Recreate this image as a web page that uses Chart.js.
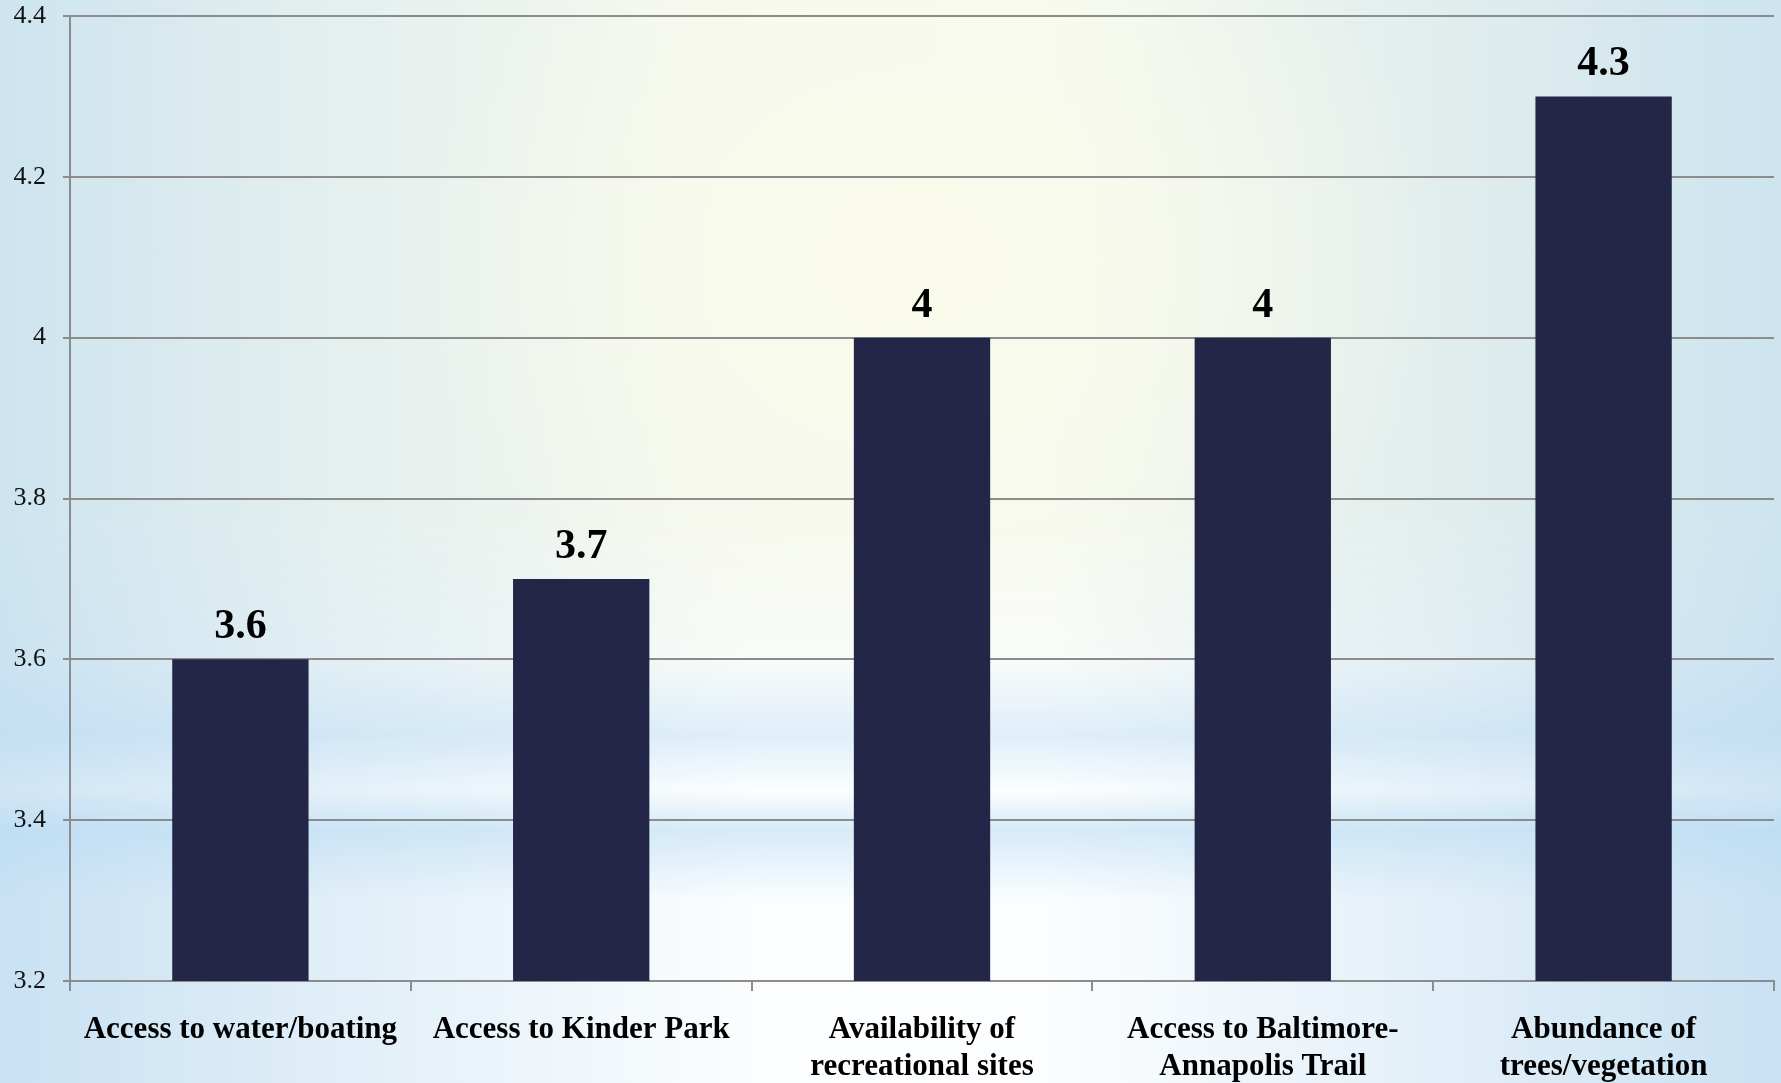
<!DOCTYPE html>
<html>
<head>
<meta charset="utf-8">
<script src="https://cdn.jsdelivr.net/npm/chart.js@4"></script>
<style>
 html, body { margin: 0; padding: 0; }
 body {
  width: 1781px; height: 1083px; overflow: hidden; position: relative;
  background: linear-gradient(to right, #c8e1f3 0px, #e2eff8 350px, #fbfdfe 750px, #fbfdfe 1050px, #e2eff8 1450px, #c8e1f3 1781px);
 }
 #topglow {
  position: absolute; left: 0; top: 0; width: 1781px; height: 760px;
  background:
   radial-gradient(ellipse 520px 420px at 930px 260px, rgba(250,251,234,1), rgba(250,251,234,0) 100%),
   linear-gradient(to right, #cde4ef 0px, #e2eeee 300px, #f5f8ef 700px, #f6f9f0 1050px, #e1eded 1450px, #cde4ef 1781px);
  -webkit-mask-image: linear-gradient(to bottom, #000 0px, #000 520px, rgba(0,0,0,0) 760px);
  mask-image: linear-gradient(to bottom, #000 0px, #000 520px, rgba(0,0,0,0) 760px);
 }
 #bands {
  position: absolute; left: 0; top: 0; width: 1781px; height: 1083px;
  background: linear-gradient(to bottom, rgba(190,222,244,0) 0px, rgba(190,222,244,0) 660px,
     rgba(190,222,244,0.45) 735px, rgba(255,255,255,0.15) 790px, rgba(185,220,244,0.55) 830px,
     rgba(190,222,244,0) 900px, rgba(190,222,244,0) 1083px);
 }
 #wrap { position: absolute; left: 0; top: 0; width: 1781px; height: 1083px; }
</style>
</head>
<body>
<div id="topglow"></div>
<div id="bands"></div>
<div id="wrap"><canvas id="barChart"></canvas></div>
<script>
// データ
const categories = [
 ["Access to water/boating"],
 ["Access to Kinder Park"],
 ["Availability of", "recreational sites"],
 ["Access to Baltimore-", "Annapolis Trail"],
 ["Abundance of", "trees/vegetation"]
];
const scores = [3.6, 3.7, 4, 4, 4.3];
const yTicks = [3.2, 3.4, 3.6, 3.8, 4, 4.2, 4.4];

const serif = "'Liberation Serif', 'Times New Roman', serif";

// 棒の上に値を描く
const valueLabels = {
 id: "valueLabels",
 afterDatasetsDraw(chart) {
  const ctx = chart.ctx;
  const meta = chart.getDatasetMeta(0);
  ctx.save();
  ctx.font = "bold 42px " + serif;
  ctx.fillStyle = "#000";
  ctx.textAlign = "center";
  ctx.textBaseline = "alphabetic";
  meta.data.forEach((bar, i) => {
   ctx.fillText(String(scores[i]), bar.x, bar.y - 21);
  });
  ctx.restore();
 }
};

const config = {
 type: "bar",
 data: {
  labels: categories,
  datasets: [{
   data: scores,
   backgroundColor: "#232646",
   borderWidth: 0,
   barPercentage: 0.4,
   categoryPercentage: 1.0
  }]
 },
 options: {
  responsive: true,
  maintainAspectRatio: false,
  animation: false,
  layout: { padding: { top: 0, right: 7, left: 0, bottom: 0 } },
  plugins: {
   legend: { display: false },
   tooltip: { enabled: false }
  },
  scales: {
   y: {
    min: 3.2,
    max: 4.4,
    afterFit(scale) {
     scale.width = 70;
     scale.paddingTop = 16;
     scale.paddingBottom = 0;
    },
    afterBuildTicks(scale) { scale.ticks = yTicks.map(v => ({ value: v })); },
    border: { color: "#8c8c8c", width: 2 },
    grid: { color: "#8c8c8c", lineWidth: 2, tickLength: 7 },
    ticks: {
     padding: 17,
     color: "#111",
     font: { family: serif, size: 26 },
     callback: v => String(Number(v.toFixed(1)))
    }
   },
   x: {
    afterFit(scale) {
     scale.height = 102;
     scale.paddingLeft = 0;
     scale.paddingRight = 0;
    },
    border: { color: "#8c8c8c", width: 2 },
    grid: { drawOnChartArea: false, color: "#8c8c8c", lineWidth: 2, tickLength: 10, offset: true },
    ticks: {
     padding: 20,
     color: "#000",
     maxRotation: 0,
     autoSkip: false,
     font: { family: serif, size: 31, weight: "bold", lineHeight: 1.2 }
    }
   }
  }
 },
 plugins: [valueLabels]
};

const barChart = new Chart(document.getElementById("barChart"), config);
</script>
</body>
</html>
